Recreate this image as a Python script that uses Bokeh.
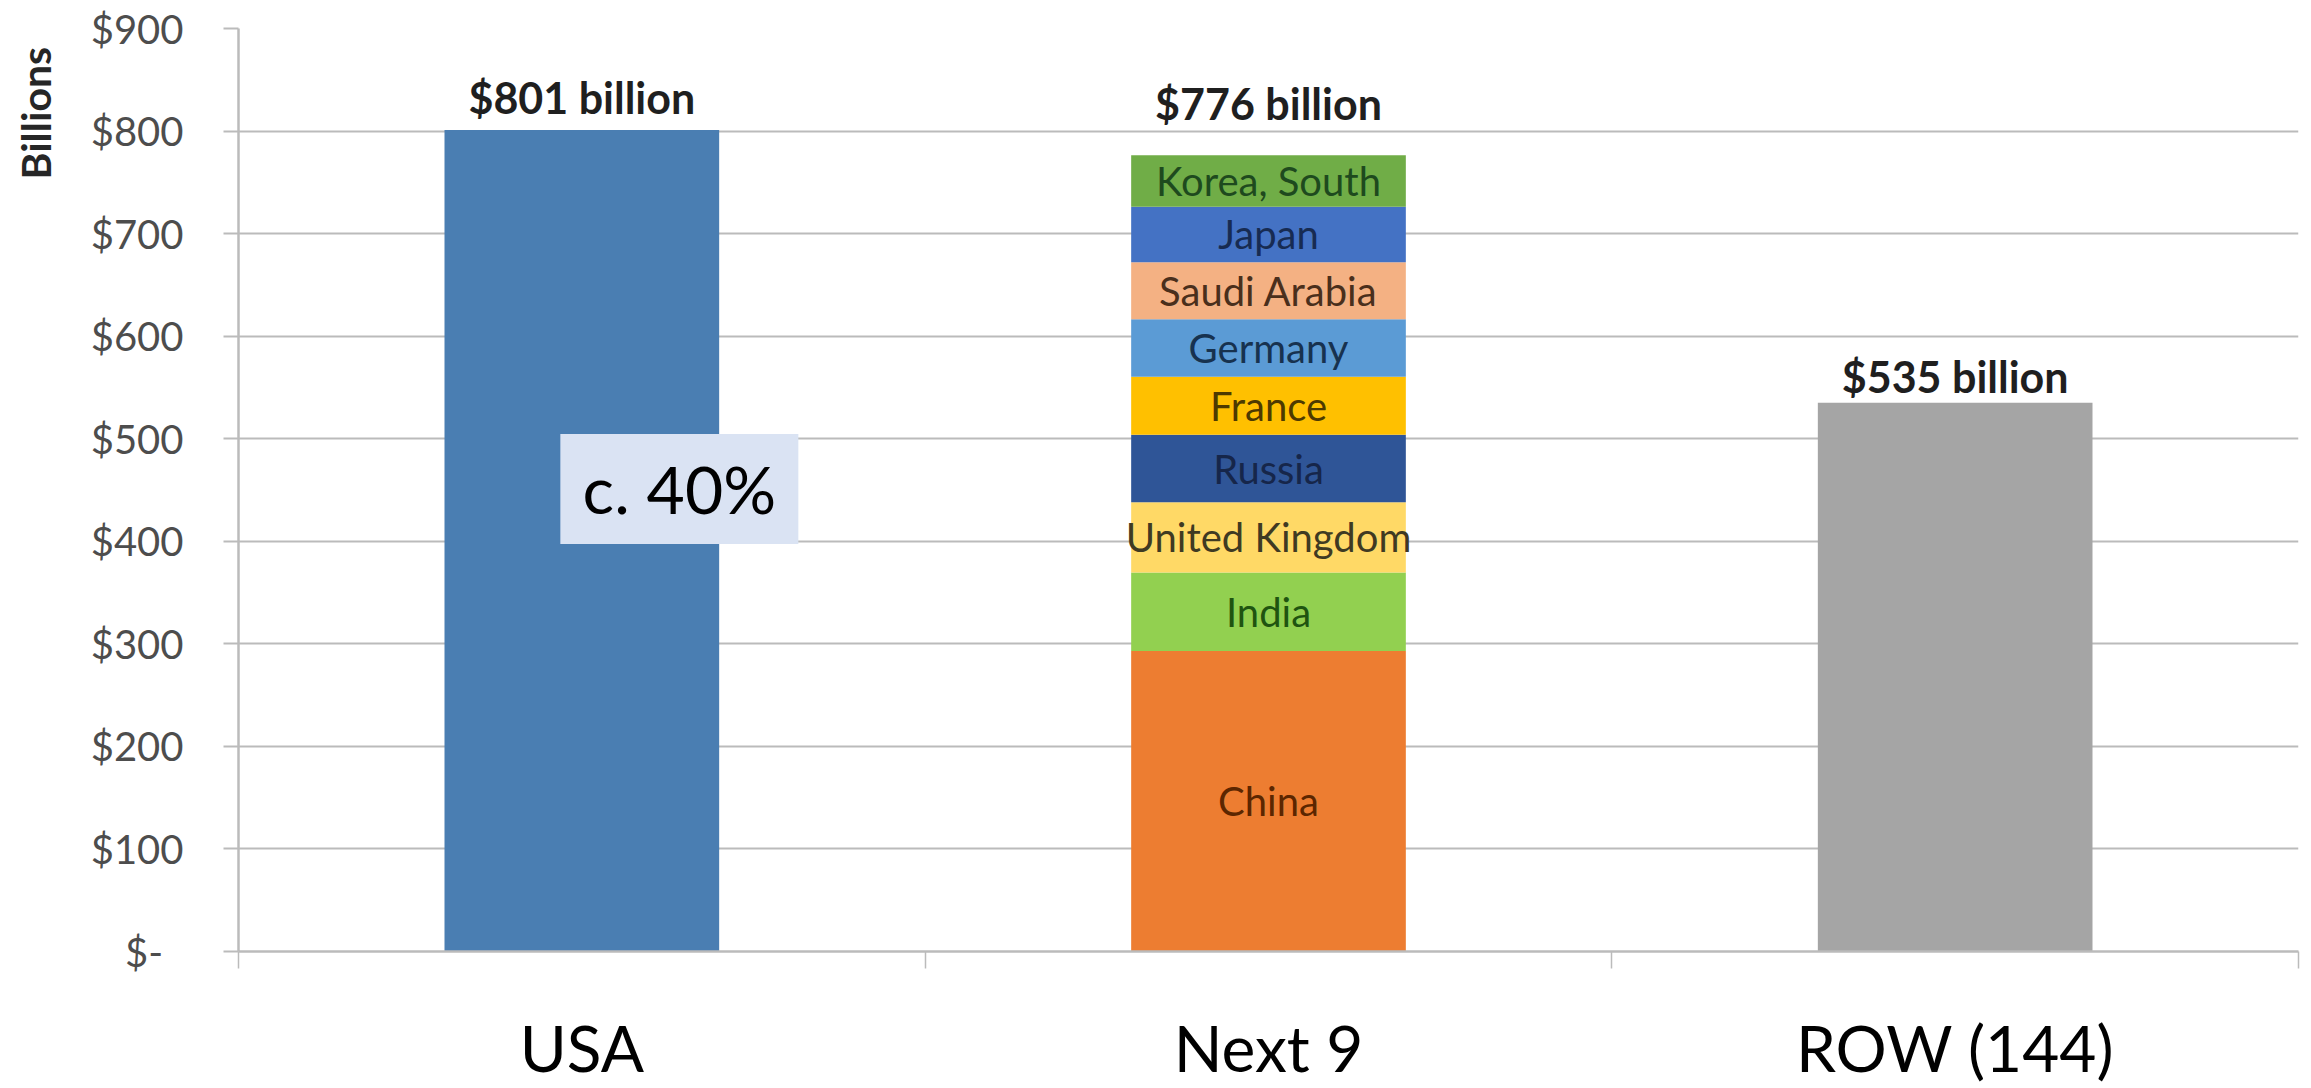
import numpy as np
from bokeh.plotting import figure
from bokeh.models import (Range1d, FixedTicker, ColumnDataSource)
from bokeh.core.properties import value
from bokeh.embed import file_html
from bokeh.resources import INLINE

# ---------------- data ----------------
categories = ["USA", "Next 9", "ROW (144)"]

single_bars = ["USA", "ROW (144)"]
single_values = [801, 535]
single_colors = ["#4A7EB2", "#A5A5A5"]

next9_group = "Next 9"
next9_countries = ["China", "India", "United Kingdom", "Russia", "France",
                   "Germany", "Saudi Arabia", "Japan", "Korea, South"]
next9_values = [293.0, 76.6, 68.4, 65.9, 56.6, 56.0, 55.6, 54.1, 50.2]
next9_colors = ["#ED7D31", "#92D050", "#FFD966", "#2F5597", "#FFC000",
                "#5B9BD5", "#F4B183", "#4472C4", "#70AD47"]
next9_text_colors = ["#5C2600", "#1F5410", "#3F3A22", "#16264A", "#4D3A00",
                     "#17324F", "#4A2F1C", "#172B52", "#1E4A1E"]

y_ticks = [0, 100, 200, 300, 400, 500, 600, 700, 800, 900]
y_axis_title = "Billions"
annotation_text = "c. 40%"
annotation_anchor = "USA"

# ---------------- styles ----------------
GRID = "#BBBBBB"
FONT = "Lato"
label_offsets = {"USA": -33, "Next 9": -52, "ROW (144)": -26}
title_pad = "\u00a0" * 17   # shifts the end-aligned axis title down below the top edge

# category positions on the x scale (one unit per category)
cat_x = {c: i + 0.5 for i, c in enumerate(categories)}
bounds = [float(i) for i in range(len(categories) + 1)]

totals = {c: v for c, v in zip(single_bars, single_values)}
totals[next9_group] = float(np.sum(next9_values))
total_values = [totals[c] for c in categories]
total_texts = ["$%d billion" % round(t) for t in total_values]

p = figure(x_range=Range1d(bounds[0], bounds[-1]), y_range=Range1d(y_ticks[0], y_ticks[-1]),
           width=2311, height=1088, output_backend="svg", toolbar_location=None,
           min_border_left=238, min_border_right=13, min_border_top=28,
           min_border_bottom=137)
p.outline_line_color = None
p.background_fill_color = "white"
p.xgrid.grid_line_color = None
p.ygrid.grid_line_color = GRID
p.ygrid.grid_line_width = 2
p.ygrid.ticker = FixedTicker(ticks=y_ticks)

# y axis
ya = p.yaxis[0]
ya.ticker = FixedTicker(ticks=y_ticks)
ya.major_label_overrides = {t: ("$%d" % t if t else "$-\u00a0\u00a0") for t in y_ticks}
ya.major_label_text_font = FONT
ya.major_label_text_font_size = "40px"
ya.major_label_text_color = "#4D4D4D"
ya.major_label_standoff = 40
ya.major_tick_out = 15
ya.major_tick_in = 0
ya.major_tick_line_color = GRID
ya.major_tick_line_width = 2
ya.minor_tick_line_color = None
ya.axis_line_color = GRID
ya.axis_line_width = 2.5

# y axis title, placed at the top end of the axis
ya.axis_label = y_axis_title + title_pad
ya.axis_label_align = "end"
ya.axis_label_text_font = FONT
ya.axis_label_text_font_size = "41px"
ya.axis_label_text_font_style = "bold"
ya.axis_label_text_color = "#262626"
ya.axis_label_standoff = 28

# x axis: labels at category centres, tick marks at category boundaries
xa = p.xaxis[0]
xa.ticker = FixedTicker(ticks=[cat_x[c] for c in categories], minor_ticks=bounds)
xa.major_label_overrides = {cat_x[c]: c for c in categories}
xa.major_tick_line_color = None
xa.major_tick_out = 0
xa.major_tick_in = 0
xa.minor_tick_line_color = GRID
xa.minor_tick_line_width = 1.5
xa.minor_tick_out = 17
xa.minor_tick_in = 0
xa.axis_line_color = GRID
xa.axis_line_width = 2.5
xa.major_label_text_font = FONT
xa.major_label_text_font_size = "64px"
xa.major_label_text_color = "black"
xa.major_label_standoff = 40

# single bars
p.vbar(x=[cat_x[c] for c in single_bars], top=single_values, width=0.4,
       fill_color=single_colors, line_color=None)

# stacked bar
stack_src = ColumnDataSource({"x": [cat_x[next9_group]],
                              **{c: [v] for c, v in zip(next9_countries, next9_values)}})
p.vbar_stack(stackers=next9_countries, x="x", width=0.4, color=next9_colors,
             line_color=None, source=stack_src)

# segment labels
tops = np.cumsum(next9_values)
mids = tops - np.array(next9_values) / 2.0
seg_src = ColumnDataSource({"x": [cat_x[next9_group]] * len(next9_countries), "y": mids,
                            "text": next9_countries, "color": next9_text_colors})
p.text(x="x", y="y", text="text", text_color="color", source=seg_src,
       text_font=value(FONT), text_font_size=value("40px"),
       text_align="center", text_baseline="middle")

# total labels
tot_src = ColumnDataSource({"x": [cat_x[c] for c in categories], "y": total_values,
                            "text": total_texts,
                            "yoff": [label_offsets[c] for c in categories]})
p.text(x="x", y="y", text="text", y_offset="yoff", source=tot_src,
       text_font=value(FONT), text_font_size=value("43px"), text_font_style="bold",
       text_color="#1F1F1F", text_align="center", text_baseline="middle")

# "c. 40%" annotation box
ann_x = cat_x[annotation_anchor] + 0.142
ann_y = 451
p.rect(x=[ann_x], y=[ann_y], width=238, height=110, width_units="screen",
       height_units="screen", fill_color="#DAE3F3", line_color=None)
p.text(x=[ann_x], y=[ann_y], text=[annotation_text], text_font=value(FONT),
       text_font_size=value("66px"), text_color="black",
       text_align="center", text_baseline="middle")

open("out.html", "w").write(file_html(p, INLINE))
